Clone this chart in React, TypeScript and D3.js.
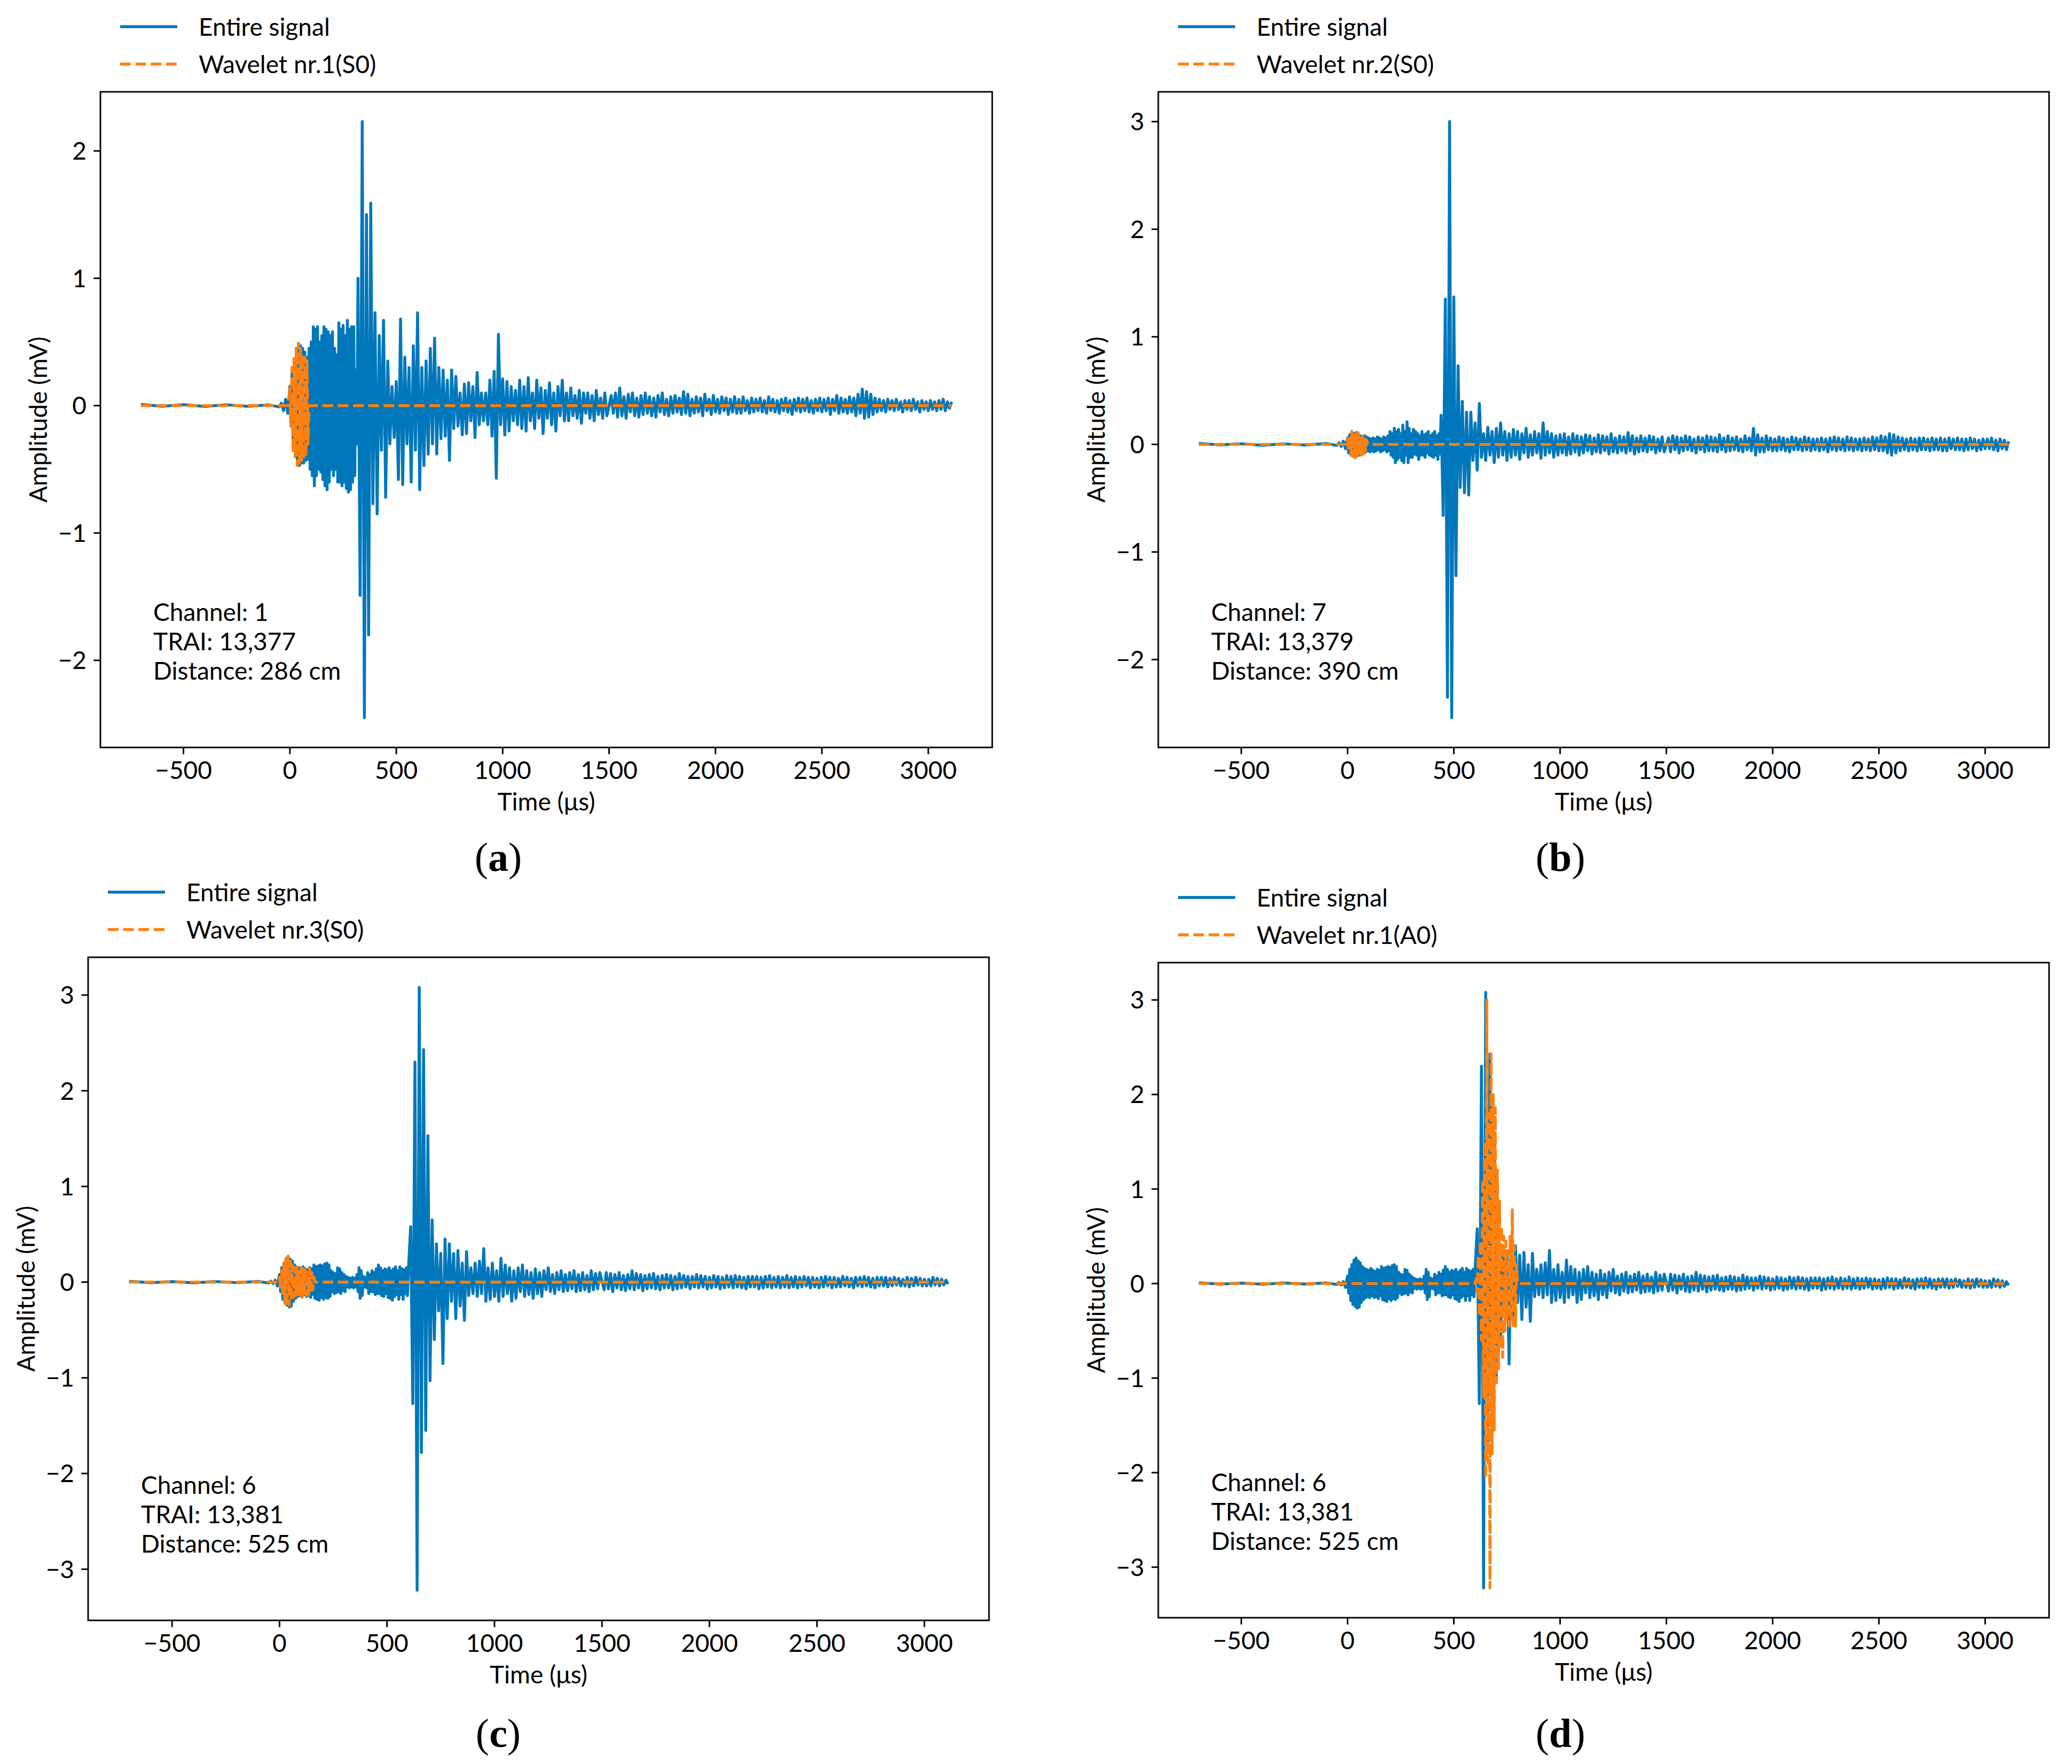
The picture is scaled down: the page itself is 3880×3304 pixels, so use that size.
import React from "react";
import * as d3 from "d3";

// ---------- data ----------
const X_TICKS = [-500, 0, 500, 1000, 1500, 2000, 2500, 3000];
const Y_TICKS_A = [-2, -1, 0, 1, 2];
const Y_TICKS_B = [-2, -1, 0, 1, 2, 3];
const Y_TICKS_CD = [-3, -2, -1, 0, 1, 2, 3];

const T_START = -700;
const T_END = 3110;
const DENSE_START = 0;
const DENSE_STEP = 5;
const BURST_STEP = 10;
const BURST_START_A = 320;
const BURST_START_B = 440;
const BURST_START_C = 600;
const TAIL_START = 1510;
const TAIL_STEP = 10;
const WAVELET_STEP = 5;

const PRE_T = [-700, -600, -500, -400, -300, -200, -100, -50, -40, -30, -20, -10];

const preA = [0.01, -0.005, 0.008, -0.006, 0.007, -0.005, 0.006, -0.01, 0.02, -0.04, 0.05, -0.06];
const preB = [0.01, -0.005, 0.006, -0.008, 0.005, -0.006, 0.008, -0.01, 0.015, -0.02, 0.03, -0.04];
const preC = [0.008, -0.006, 0.005, -0.007, 0.006, -0.005, 0.007, -0.01, 0.01, -0.015, 0.02, -0.04];

// ---- channel 1 ----
const denseA = [
  0.15, -0.16, 0.25, -0.3, 0.37, -0.4, 0.45, -0.44,
  0.49, -0.47, 0.47, -0.45, 0.45, -0.45, 0.42, -0.43,
  0.38, -0.42, 0.45, -0.5, 0.5, -0.55, 0.62, -0.63,
  0.6, -0.55, 0.62, -0.5, 0.5, -0.52, 0.55, -0.58,
  0.62, -0.63, 0.6, -0.66, 0.58, -0.6, 0.55, -0.5,
  0.58, -0.55, 0.45, -0.5, 0.4, -0.6, 0.65, -0.6,
  0.6, -0.63, 0.63, -0.6, 0.55, -0.65, 0.67, -0.68,
  0.6, -0.66, 0.62, -0.6, 0.62, -0.55, 0.28, -0.3,
];
const burstA = [
  1.0, -1.49, 2.23, -2.45, 1.5, -1.8, 1.59, -0.77,
  0.73, -0.85, 0.55, -0.35, 0.67, -0.72, 0.35, -0.3, 0.15, -0.25,
  0.19, -0.58, 0.68, -0.62, 0.38, -0.3, 0.3, -0.6, 0.47, -0.35,
  0.73, -0.66, 0.3, -0.47, 0.35, -0.38, 0.45, -0.3, 0.53, -0.38,
  0.3, -0.26, 0.28, -0.24, 0.2, -0.43, 0.28, -0.18, 0.23, -0.16,
  0.1, -0.23, 0.17, -0.22, 0.18, -0.12, 0.15, -0.25, 0.26, -0.15,
  0.1, -0.12, 0.1, -0.15, 0.2, -0.24, 0.27, -0.57, 0.56, -0.15,
  0.21, -0.23, 0.19, -0.2, 0.15, -0.12, 0.12, -0.15, 0.2, -0.18,
  0.15, -0.2, 0.22, -0.12, 0.1, -0.18, 0.2, -0.1, 0.14, -0.22,
  0.12, -0.1, 0.18, -0.15, 0.1, -0.2, 0.15, -0.08, 0.2, -0.12,
  0.1, -0.12, 0.14, -0.08, 0.08, -0.1, 0.12, -0.14, 0.1, -0.06,
  0.1, -0.1, 0.08, -0.12, 0.12, -0.07, 0.06, -0.1, 0.1, -0.08,
];
const tailA = [
  0.08, -0.06, 0.1, -0.09, 0.14, -0.08, 0.07, -0.1, 0.09, -0.05,
  0.1, -0.08, 0.06, -0.09, 0.08, -0.07, 0.1, -0.06, 0.07, -0.08,
  0.06, -0.09, 0.08, -0.05, 0.1, -0.07, 0.05, -0.08, 0.07, -0.06,
  0.08, -0.05, 0.06, -0.07, 0.11, -0.06, 0.09, -0.08, 0.05, -0.06,
  0.07, -0.05, 0.06, -0.08, 0.09, -0.04, 0.05, -0.07, 0.08, -0.05,
  0.05, -0.06, 0.07, -0.04, 0.06, -0.07, 0.05, -0.05, 0.07, -0.06,
  0.05, -0.06, 0.07, -0.04, 0.04, -0.06, 0.06, -0.05, 0.05, -0.04,
  0.06, -0.05, 0.04, -0.06, 0.07, -0.04, 0.05, -0.05, 0.04, -0.06,
  0.05, -0.04, 0.06, -0.05, 0.04, -0.07, 0.05, -0.04, 0.06, -0.05,
  0.05, -0.04, 0.06, -0.05, 0.04, -0.06, 0.05, -0.04, 0.06, -0.05,
  0.05, -0.04, 0.06, -0.07, 0.05, -0.04, 0.08, -0.06, 0.06, -0.05,
  0.05, -0.06, 0.07, -0.05, 0.06, -0.08, 0.09, -0.06, 0.13, -0.1,
  0.11, -0.09, 0.09, -0.07, 0.06, -0.05, 0.05, -0.04, 0.04, -0.05,
  0.05, -0.03, 0.04, -0.04, 0.05, -0.03, 0.03, -0.05, 0.04, -0.03,
  0.04, -0.04, 0.05, -0.03, 0.03, -0.05, 0.04, -0.03, 0.03, -0.04,
  0.04, -0.03, 0.03, -0.04, 0.04, -0.03, 0.05, -0.04, 0.03, -0.02,
  0.03,
];
const waveletA = [0, 0.15, -0.16, 0.3, -0.37, 0.37, -0.4, 0.45, -0.47, 0.49, -0.45, 0.45, -0.43, 0.4, -0.42, 0.38, -0.4, 0.35, -0.3, 0];
const WAVELET_A_START = -5;

// ---- channel 7 ----
const denseB = [
  0.06, -0.08, 0.09, -0.1, 0.12, -0.11, 0.1, -0.12,
  0.11, -0.1, 0.09, -0.1, 0.08, -0.09, 0.07, -0.08,
  0.08, -0.07, 0.07, -0.06, 0.06, -0.07, 0.05, -0.06,
  0.06, -0.07, 0.05, -0.06, 0.07, -0.05, 0.06, -0.07,
  0.05, -0.06, 0.07, -0.05, 0.06, -0.07, 0.08, -0.06,
  0.12, -0.1, 0.1, -0.12, 0.15, -0.17, 0.12, -0.14,
  0.14, -0.12, 0.1, -0.15, 0.18, -0.17, 0.12, -0.1,
  0.21, -0.17, 0.15, -0.12, 0.1, -0.12, 0.14, -0.09,
  0.12, -0.1, 0.1, -0.14, 0.08, -0.1, 0.12, -0.1,
  0.09, -0.12, 0.1, -0.08, 0.12, -0.1, 0.08, -0.11,
  0.1, -0.12, 0.12, -0.1, 0.08, -0.14, 0.1, -0.09,
];
const burstB = [
  0.27, -0.66, 1.35, -2.35, 3.0, -2.54,
  1.37, -1.22, 0.73, -0.4, 0.4, -0.45, 0.3, -0.47, 0.3, -0.15,
  0.2, -0.24, 0.38, -0.12, 0.1, -0.15, 0.16, -0.1, 0.12, -0.17,
  0.15, -0.12, 0.2, -0.1, 0.12, -0.15, 0.1, -0.12, 0.14, -0.1,
  0.12, -0.14, 0.1, -0.08, 0.15, -0.12, 0.09, -0.1, 0.12, -0.08,
  0.1, -0.13, 0.2, -0.1, 0.12, -0.08, 0.1, -0.12, 0.08, -0.1,
  0.09, -0.08, 0.1, -0.1, 0.07, -0.09, 0.1, -0.07, 0.08, -0.1,
  0.07, -0.08, 0.09, -0.06, 0.08, -0.09, 0.06, -0.07, 0.09, -0.08,
  0.08, -0.06, 0.07, -0.09, 0.1, -0.07, 0.06, -0.08, 0.08, -0.06,
  0.07, -0.08, 0.11, -0.06, 0.08, -0.09, 0.06, -0.07, 0.08, -0.06,
  0.06, -0.07, 0.08, -0.05, 0.07, -0.08, 0.05, -0.06, 0.07, -0.07,
];
const tailB = [
  0.06, -0.07, 0.08, -0.05, 0.07, -0.08, 0.06, -0.06, 0.08, -0.05,
  0.07, -0.06, 0.05, -0.08, 0.07, -0.05, 0.06, -0.07, 0.08, -0.06,
  0.07, -0.06, 0.06, -0.07, 0.09, -0.05, 0.06, -0.07, 0.08, -0.06,
  0.06, -0.05, 0.07, -0.06, 0.05, -0.07, 0.08, -0.05, 0.06, -0.06,
  0.15, -0.1, 0.09, -0.07, 0.06, -0.07, 0.08, -0.05, 0.06, -0.06,
  0.05, -0.06, 0.07, -0.05, 0.06, -0.06, 0.05, -0.07, 0.07, -0.05,
  0.06, -0.05, 0.05, -0.06, 0.07, -0.05, 0.06, -0.06, 0.05, -0.05,
  0.05, -0.06, 0.06, -0.05, 0.05, -0.07, 0.06, -0.05, 0.07, -0.06,
  0.06, -0.05, 0.05, -0.06, 0.07, -0.05, 0.06, -0.06, 0.05, -0.05,
  0.05, -0.06, 0.06, -0.05, 0.05, -0.06, 0.07, -0.05, 0.06, -0.06,
  0.08, -0.06, 0.07, -0.08, 0.1, -0.1, 0.09, -0.08, 0.07, -0.06,
  0.06, -0.05, 0.05, -0.06, 0.06, -0.05, 0.05, -0.06, 0.06, -0.05,
  0.06, -0.05, 0.05, -0.06, 0.06, -0.05, 0.05, -0.05, 0.06, -0.06,
  0.05, -0.06, 0.06, -0.04, 0.05, -0.05, 0.06, -0.05, 0.05, -0.06,
  0.05, -0.05, 0.06, -0.04, 0.05, -0.06, 0.04, -0.05, 0.05, -0.04,
  0.05, -0.04, 0.06, -0.05, 0.04, -0.06, 0.05, -0.04, 0.04, -0.05,
  0.03,
];
const waveletB = [0, 0.05, -0.06, 0.08, -0.1, 0.12, -0.11, 0.12, -0.12, 0.1, -0.11, 0.11, -0.09, 0.09, -0.1, 0.08, -0.09, 0.07, -0.06, 0.04, 0];
const WAVELET_B_START = -5;

// ---- channel 6 (shared by panels c and d) ----
const denseC = [
  0.08, -0.1, 0.15, -0.18, 0.2, -0.22, 0.25, -0.24,
  0.27, -0.26, 0.24, -0.25, 0.22, -0.2, 0.18, -0.17,
  0.16, -0.15, 0.15, -0.14, 0.14, -0.15, 0.16, -0.13,
  0.14, -0.15, 0.13, -0.14, 0.15, -0.16, 0.14, -0.13,
  0.18, -0.17, 0.16, -0.18, 0.17, -0.19, 0.18, -0.16,
  0.17, -0.18, 0.19, -0.16, 0.2, -0.17, 0.18, -0.15,
  0.12, -0.1, 0.1, -0.12, 0.09, -0.11, 0.15, -0.1,
  0.14, -0.12, 0.1, -0.09, 0.08, -0.1, 0.06, -0.05,
  0.05, -0.06, 0.04, -0.05, 0.05, -0.06, 0.04, -0.05,
  0.08, -0.1, 0.15, -0.17, 0.12, -0.14, 0.06, -0.05,
  0.05, -0.06, 0.1, -0.12, 0.08, -0.1, 0.12, -0.1,
  0.1, -0.13, 0.14, -0.12, 0.18, -0.12, 0.15, -0.14,
  0.12, -0.15, 0.14, -0.12, 0.13, -0.16, 0.15, -0.17,
  0.12, -0.19, 0.14, -0.15, 0.16, -0.13, 0.12, -0.18,
  0.16, -0.13, 0.14, -0.18, 0.13, -0.12, 0.15, -0.14,
];
const burstC = [
  0.15, 0.58, -1.27, 2.3, -3.22, 3.08, -1.78, 2.43, -1.55, 1.53,
  -1.03, 0.65, -0.6, 0.4, -0.3, 0.3, -0.85, 0.45, -0.38, 0.4,
  -0.2, 0.3, -0.38, 0.33, -0.25, 0.2, -0.4, 0.32, -0.14, 0.15,
  -0.12, 0.2, -0.15, 0.22, -0.12, 0.35, -0.2, 0.15, -0.18, 0.2,
  -0.15, 0.12, -0.2, 0.25, -0.15, 0.18, -0.12, 0.15, -0.2, 0.12,
  -0.17, 0.15, -0.1, 0.18, -0.15, 0.12, -0.13, 0.1, -0.17, 0.14,
  -0.12, 0.1, -0.15, 0.12, -0.08, 0.15, -0.1, 0.08, -0.12, 0.1,
  -0.08, 0.12, -0.1, 0.08, -0.09, 0.1, -0.07, 0.12, -0.1, 0.08,
  -0.09, 0.1, -0.08, 0.07, -0.1, 0.12, -0.08, 0.09, -0.07, 0.1,
];
const tailC = [
  -0.08, 0.1, -0.07, 0.09, -0.1, 0.08, -0.06, 0.1, -0.08, 0.07,
  -0.09, 0.08, -0.07, 0.12, -0.08, 0.09, -0.06, 0.08, -0.09, 0.07,
  -0.07, 0.08, -0.06, 0.09, -0.07, 0.06, -0.08, 0.07, -0.06, 0.08,
  -0.06, 0.07, -0.08, 0.06, -0.07, 0.09, -0.06, 0.07, -0.05, 0.06,
  -0.07, 0.06, -0.05, 0.08, -0.06, 0.07, -0.05, 0.06, -0.07, 0.05,
  -0.06, 0.07, -0.05, 0.06, -0.07, 0.05, -0.06, 0.07, -0.05, 0.06,
  -0.06, 0.07, -0.05, 0.06, -0.06, 0.05, -0.07, 0.06, -0.05, 0.06,
  -0.05, 0.06, -0.07, 0.05, -0.06, 0.06, -0.05, 0.07, -0.06, 0.05,
  -0.05, 0.06, -0.06, 0.05, -0.05, 0.07, -0.06, 0.05, -0.05, 0.06,
  -0.06, 0.05, -0.05, 0.06, -0.04, 0.05, -0.06, 0.05, -0.05, 0.04,
  -0.06, 0.05, -0.05, 0.06, -0.04, 0.05, -0.06, 0.05, -0.05, 0.04,
  -0.05, 0.06, -0.04, 0.05, -0.05, 0.04, -0.06, 0.05, -0.04, 0.05,
  -0.05, 0.06, -0.04, 0.05, -0.05, 0.04, -0.06, 0.05, -0.04, 0.05,
  -0.04, 0.05, -0.05, 0.04, -0.04, 0.05, -0.03, 0.04, -0.04, 0.03,
  -0.04, 0.05, -0.05, 0.04, -0.04, 0.05, -0.03, 0.04, -0.04, 0.03,
  -0.04, 0.03, -0.04, 0.05, -0.03, 0.04, -0.04, 0.03, -0.03, 0.02,
  -0.02,
];
const waveletC = [
  0, 0.05, -0.08, 0.12, -0.15, 0.2, -0.22, 0.25, -0.26, 0.27, -0.24, 0.22, -0.2, 0.18, -0.16, 0.15, -0.14,
  0.16, -0.15, 0.14, -0.13, 0.15, -0.16, 0.14, -0.15, 0.13, -0.14, 0.12, -0.13, 0.14, -0.12, 0.1, -0.08, 0.05, 0,
];
const WAVELET_C_START = -5;
const waveletD = [
  0, 0.05, -0.1, 0.3, -0.35, 0.45, -0.6, 1.1, -1.2, 1.5, -2.06, 3.0, -1.9, 1.8, -3.22, 2.43, -1.8, 2.0, -1.55, 1.86,
  -1.05, 1.2, -0.9, 0.87, -0.7, 0.6, -0.78, 0.5, -0.5, 0.45, -0.4, 0.35, -0.45, 0.5, -0.4, 0.78, -0.48, 0.4, -0.45, 0.2, 0,
];
const WAVELET_D_START = 600;

// ---------- helpers ----------
type Pt = [number, number];

function buildSignal(pre: number[], dense: number[], burstStart: number, burst: number[], tail: number[]): Pt[] {
  const pts: Pt[] = PRE_T.map((t, i) => [t, pre[i]] as Pt);
  dense.forEach((v, i) => pts.push([DENSE_START + i * DENSE_STEP, v]));
  burst.forEach((v, i) => pts.push([burstStart + i * BURST_STEP, v]));
  tail.forEach((v, i) => pts.push([TAIL_START + i * TAIL_STEP, v]));
  return pts;
}
function buildWavelet(start: number, vals: number[]): Pt[] {
  const pts: Pt[] = [[T_START, 0]];
  vals.forEach((v, i) => pts.push([start + i * WAVELET_STEP, v]));
  pts.push([T_END, 0]);
  return pts;
}

const BLUE = "#0077bb";
const ORANGE = "#ff800e";
const FONT = "Lato, 'Open Sans', sans-serif";
const FS = 46;
const LW = 5.4;

const fmt = (d: number) => (d < 0 ? "\u2212" + Math.abs(d) : String(d));

interface PanelProps {
  id: string;
  L: number; R: number; T: number; B: number;
  signal: Pt[];
  wavelet: Pt[];
  yTicks: number[];
  waveletLabel: string;
  info: string[];
  letter: string;
  labelX: number;
  labelY: number;
}

function Panel(p: PanelProps) {
  const all = p.signal.concat(p.wavelet);
  const [x0, x1] = d3.extent(all, (d) => d[0]) as [number, number];
  const [y0, y1] = d3.extent(all, (d) => d[1]) as [number, number];
  const xm = (x1 - x0) * 0.05;
  const ym = (y1 - y0) * 0.05;
  const x = d3.scaleLinear().domain([x0 - xm, x1 + xm]).range([p.L, p.R]);
  const y = d3.scaleLinear().domain([y0 - ym, y1 + ym]).range([p.B, p.T]);
  const line = d3.line<Pt>().x((d) => x(d[0])).y((d) => y(d[1]));
  const tickLen = 12.6;
  const cx = (p.L + p.R) / 2;
  const cy = (p.T + p.B) / 2;
  return (
    <g>
      <defs>
        <clipPath id={"clip-" + p.id}>
          <rect x={p.L} y={p.T} width={p.R - p.L} height={p.B - p.T} />
        </clipPath>
      </defs>
      <g clipPath={`url(#clip-${p.id})`}>
        <path d={line(p.signal) || ""} fill="none" stroke={BLUE} strokeWidth={LW} strokeLinejoin="round" />
        <path d={line(p.wavelet) || ""} fill="none" stroke={ORANGE} strokeWidth={LW} strokeDasharray="20 8.6" strokeLinejoin="round" />
      </g>
      <rect x={p.L} y={p.T} width={p.R - p.L} height={p.B - p.T} fill="none" stroke="#000" strokeWidth={2.9} />
      {X_TICKS.map((t) => (
        <g key={"x" + t}>
          <line x1={x(t)} x2={x(t)} y1={p.B} y2={p.B + tickLen} stroke="#000" strokeWidth={2.9} />
          <text x={x(t)} y={p.B + 59} textAnchor="middle" fontFamily={FONT} fontSize={FS}>{fmt(t)}</text>
        </g>
      ))}
      {p.yTicks.map((t) => (
        <g key={"y" + t}>
          <line x1={p.L - tickLen} x2={p.L} y1={y(t)} y2={y(t)} stroke="#000" strokeWidth={2.9} />
          <text x={p.L - 26} y={y(t) + 16.5} textAnchor="end" fontFamily={FONT} fontSize={FS}>{fmt(t)}</text>
        </g>
      ))}
      <text x={cx} y={p.B + 118} textAnchor="middle" fontFamily={FONT} fontSize={FS}>Time (μs)</text>
      <text transform={`translate(${p.L - 100},${cy}) rotate(-90)`} textAnchor="middle" fontFamily={FONT} fontSize={FS}>Amplitude (mV)</text>
      {p.info.map((s, i) => (
        <text key={s} x={p.L + 99} y={p.B - 237 + i * 55} fontFamily={FONT} fontSize={FS}>{s}</text>
      ))}
      {/* legend */}
      <line x1={p.L + 37} x2={p.L + 144} y1={p.T - 122} y2={p.T - 122} stroke={BLUE} strokeWidth={LW} />
      <text x={p.L + 184} y={p.T - 122 + 17} fontFamily={FONT} fontSize={FS}>Entire signal</text>
      <line x1={p.L + 37} x2={p.L + 144} y1={p.T - 52} y2={p.T - 52} stroke={ORANGE} strokeWidth={LW} strokeDasharray="20 8.6" />
      <text x={p.L + 184} y={p.T - 52 + 17} fontFamily={FONT} fontSize={FS}>{p.waveletLabel}</text>
      <text x={p.labelX} y={p.labelY} textAnchor="middle" fontFamily="'Liberation Serif', 'DejaVu Serif', serif" fontSize={76}>
        (<tspan fontWeight="bold">{p.letter}</tspan>)
      </text>
    </g>
  );
}

export default function App() {
  const sigA = buildSignal(preA, denseA, BURST_START_A, burstA, tailA);
  const sigB = buildSignal(preB, denseB, BURST_START_B, burstB, tailB);
  const sigC = buildSignal(preC, denseC, BURST_START_C, burstC, tailC);
  return (
    <svg width={3880} height={3304} viewBox="0 0 3880 3304" style={{ position: "absolute", left: 0, top: 0, background: "#fff" }}>
      <rect x={0} y={0} width={3880} height={3304} fill="#fff" />
      <Panel id="a" L={188} R={1858} T={172} B={1400} signal={sigA} wavelet={buildWavelet(WAVELET_A_START, waveletA)}
        yTicks={Y_TICKS_A} waveletLabel="Wavelet nr.1(S0)" info={["Channel: 1", "TRAI: 13,377", "Distance: 286 cm"]}
        letter="a" labelX={933} labelY={1631} />
      <Panel id="b" L={2169} R={3837} T={172} B={1400} signal={sigB} wavelet={buildWavelet(WAVELET_B_START, waveletB)}
        yTicks={Y_TICKS_B} waveletLabel="Wavelet nr.2(S0)" info={["Channel: 7", "TRAI: 13,379", "Distance: 390 cm"]}
        letter="b" labelX={2922} labelY={1631} />
      <Panel id="c" L={165} R={1852} T={1793} B={3035} signal={sigC} wavelet={buildWavelet(WAVELET_C_START, waveletC)}
        yTicks={Y_TICKS_CD} waveletLabel="Wavelet nr.3(S0)" info={["Channel: 6", "TRAI: 13,381", "Distance: 525 cm"]}
        letter="c" labelX={933} labelY={3272} />
      <Panel id="d" L={2169} R={3837} T={1803} B={3030} signal={sigC} wavelet={buildWavelet(WAVELET_D_START, waveletD)}
        yTicks={Y_TICKS_CD} waveletLabel="Wavelet nr.1(A0)" info={["Channel: 6", "TRAI: 13,381", "Distance: 525 cm"]}
        letter="d" labelX={2922} labelY={3272} />
    </svg>
  );
}
